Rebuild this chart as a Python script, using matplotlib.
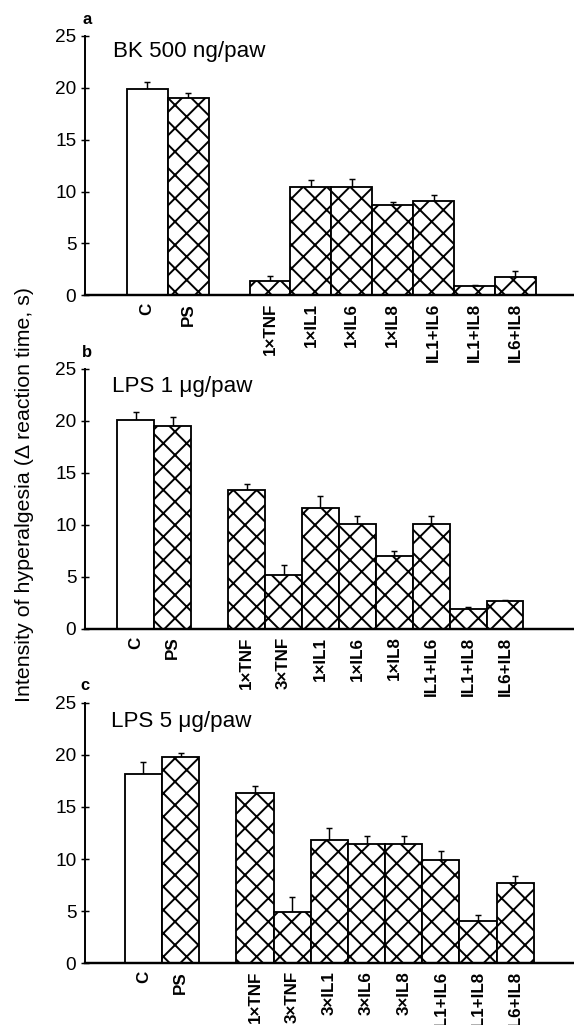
import numpy as np
import matplotlib
matplotlib.use('Agg')
import matplotlib.pyplot as plt

# values (s)
pos_a = [0, 1, 3, 4, 5, 6, 7, 8, 9]
labels_a = ['C', 'PS', '1×TNF', '1×IL1', '1×IL6', '1×IL8', 'IL1+IL6', 'IL1+IL8', 'IL6+IL8']
vals_a = [19.9, 19.0, 1.4, 10.4, 10.4, 8.7, 9.05, 0.85, 1.75]
err_a = [0.7, 0.5, 0.5, 0.75, 0.8, 0.25, 0.65, 0.15, 0.6]

pos_b = [0, 1, 3, 4, 5, 6, 7, 8, 9, 10]
labels_b = ['C', 'PS', '1×TNF', '3×TNF', '1×IL1', '1×IL6', '1×IL8', 'IL1+IL6', 'IL1+IL8', 'IL6+IL8']
vals_b = [20.05, 19.5, 13.3, 5.15, 11.6, 10.1, 7.0, 10.1, 1.9, 2.65]
err_b = [0.8, 0.85, 0.65, 0.95, 1.15, 0.7, 0.45, 0.75, 0.2, 0.15]

pos_c = [0, 1, 3, 4, 5, 6, 7, 8, 9, 10]
labels_c = ['C', 'PS', '1×TNF', '3×TNF', '3×IL1', '3×IL6', '3×IL8', 'IL1+IL6', 'IL1+IL8', 'IL6+IL8']
vals_c = [18.2, 19.8, 16.3, 4.9, 11.85, 11.4, 11.45, 9.9, 4.1, 7.7]
err_c = [1.1, 0.35, 0.7, 1.5, 1.1, 0.8, 0.75, 0.9, 0.5, 0.7]

titles = ['BK 500 ng/paw', 'LPS 1 μg/paw', 'LPS 5 μg/paw']
letters = ['a', 'b', 'c']

plt.rcParams['font.family'] = ['Liberation Sans', 'DejaVu Sans']
plt.rcParams['hatch.linewidth'] = 2.0
plt.rcParams['hatch.color'] = 'black'

DPI = 70
fig = plt.figure(figsize=(574 / DPI, 1025 / DPI), dpi=DPI)

# axes boxes in figure fraction: left, bottom, width, height
boxes = [[0.1481, 0.7119, 0.8519, 0.2530],
         [0.1481, 0.3866, 0.8519, 0.2537],
         [0.1481, 0.0602, 0.8519, 0.2542]]
xlims = [(-1.52, 10.43), (-1.38, 11.87), (-1.57, 11.58)]
text_pos = [(0.057, 0.92), (0.056, 0.912), (0.054, 0.908)]
letter_pos = [(87, 20), (87, 352), (85, 686)]

data = [(pos_a, labels_a, vals_a, err_a),
        (pos_b, labels_b, vals_b, err_b),
        (pos_c, labels_c, vals_c, err_c)]

for i in range(3):
  pos, labs, vals, errs = data[i]
  ax = fig.add_axes(boxes[i])
  hatches = [''] + ['x'] * (len(pos) - 1)
  bars = ax.bar(pos, vals, width=1.0, color='white', edgecolor='black', linewidth=1.9, zorder=2)
  for b, h in zip(bars, hatches):
    b.set_hatch(h)
  ax.errorbar(pos, vals, yerr=[np.zeros(len(errs)), errs], fmt='none', ecolor='black',
              elinewidth=1.5, capsize=2.8, capthick=1.5, zorder=1)
  ax.set_ylim(0, 25)
  ax.set_xlim(*xlims[i])
  ax.set_yticks([0, 5, 10, 15, 20, 25])
  ax.set_xticks(pos)
  ax.set_xticklabels(labs, rotation=90, fontweight='bold', fontsize=17.5)
  ax.tick_params(axis='x', length=0, pad=8)
  ax.tick_params(axis='y', direction='inout', length=8, width=1.5, labelsize=19.5, pad=5)
  ax.spines['top'].set_visible(False)
  ax.spines['right'].set_visible(False)
  ax.spines['left'].set_linewidth(2.0)
  ax.spines['bottom'].set_linewidth(2.5)
  ax.text(text_pos[i][0], text_pos[i][1], titles[i], transform=ax.transAxes,
          fontsize=23, va='baseline', ha='left')
  fig.text(letter_pos[i][0] / 574, 1 - letter_pos[i][1] / 1025, letters[i],
           fontsize=17, fontweight='bold', ha='center', va='center')

fig.text(25 / 574, 1 - 495 / 1025, 'Intensity of hyperalgesia (Δ reaction time, s)',
         rotation=90, fontsize=22, ha='center', va='center')

fig.savefig('out.png', dpi=DPI)
